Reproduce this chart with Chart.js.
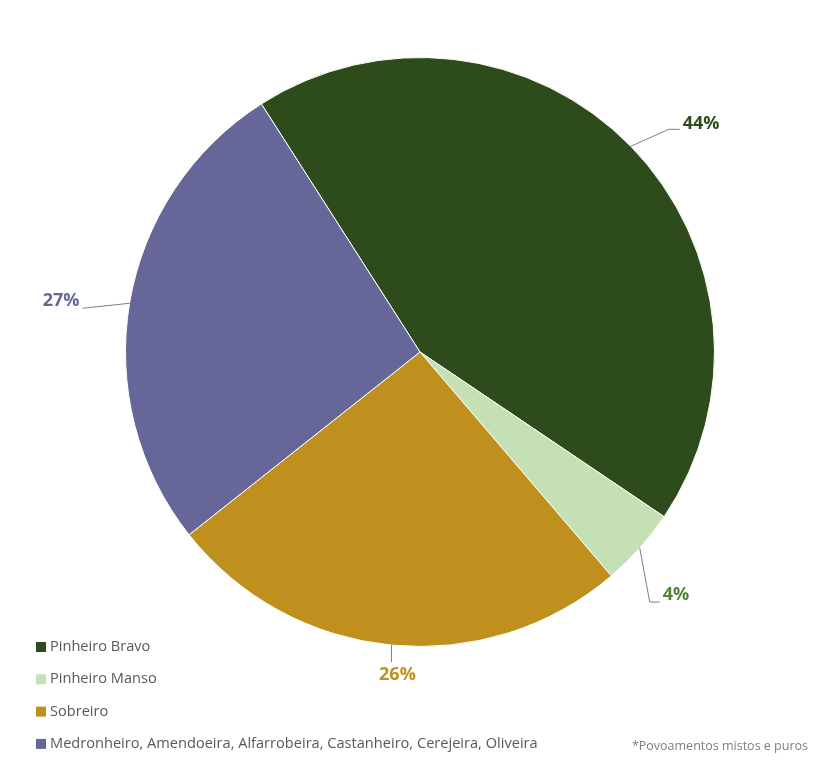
<!DOCTYPE html>
<html>
<head>
<meta charset="utf-8">
<script src="https://cdn.jsdelivr.net/npm/chart.js@4"></script>
<style>
  body { margin: 0; background: #fff; }
</style>
</head>
<body>
<canvas id="pie" width="830" height="768"></canvas>
<script>
const labels = [
  'Pinheiro Bravo',
  'Pinheiro Manso',
  'Sobreiro',
  'Medronheiro, Amendoeira, Alfarrobeira, Castanheiro, Cerejeira, Oliveira'
];
const values = [43.5, 4.3, 25.6, 26.6];
const pctLabels = ['44%', '4%', '26%', '27%'];
const footnote = '*Povoamentos mistos e puros';

const colors = ['#2e4b1c', '#c5e0b4', '#bf901e', '#666699'];
const labelColors = ['#2e4b1c', '#548235', '#bf901e', '#666699'];
// leader line: elbow offset from arc edge, then tail, then text anchor
const leaders = [
  { elbow: [38, -17], tail: [11, 0], text: [3, -5], align: 'left' },
  { elbow: [10, 54], tail: [10, 0], text: [3, -7], align: 'left' },
  { elbow: [0, 17], tail: [0, 0], text: [6, 13], align: 'center' },
  { elbow: [-47, 5], tail: [0, 0], text: [-3, -7], align: 'right' }
];

const extras = {
  id: 'extras',
  afterDraw(chart) {
    const ctx = chart.ctx;
    const meta = chart.getDatasetMeta(0);
    ctx.save();
    meta.data.forEach((arc, i) => {
      const p = arc.getProps(['x', 'y', 'startAngle', 'endAngle', 'outerRadius'], true);
      const mid = (p.startAngle + p.endAngle) / 2;
      const sx = p.x + Math.cos(mid) * p.outerRadius;
      const sy = p.y + Math.sin(mid) * p.outerRadius;
      const L = leaders[i];
      const ex = sx + L.elbow[0], ey = sy + L.elbow[1];
      const tx = ex + L.tail[0], ty = ey + L.tail[1];
      ctx.strokeStyle = '#7f7f7f';
      ctx.lineWidth = 1;
      ctx.beginPath();
      ctx.moveTo(sx, sy);
      ctx.lineTo(ex, ey);
      ctx.lineTo(tx, ty);
      ctx.stroke();
      ctx.fillStyle = labelColors[i];
      ctx.font = 'bold 18px "Open Sans"';
      ctx.textAlign = L.align;
      ctx.textBaseline = 'middle';
      ctx.fillText(pctLabels[i], tx + L.text[0], ty + L.text[1]);
    });

    // legend
    ctx.font = '14.6px "Open Sans"';
    ctx.textAlign = 'left';
    ctx.textBaseline = 'middle';
    labels.forEach((lab, i) => {
      const y = 647 + i * 32.3;
      ctx.fillStyle = colors[i];
      ctx.fillRect(36, y - 5, 10, 10);
      ctx.fillStyle = '#595959';
      ctx.fillText(lab, 50, y);
    });

    ctx.font = '12.5px "Open Sans"';
    ctx.fillStyle = '#7f7f7f';
    ctx.textAlign = 'right';
    ctx.fillText(footnote, 808, 746);
    ctx.restore();
  }
};

new Chart(document.getElementById('pie'), {
  type: 'pie',
  data: {
    labels: labels,
    datasets: [{
      data: values,
      backgroundColor: colors,
      borderColor: '#ffffff',
      borderWidth: 1
    }]
  },
  options: {
    responsive: false,
    animation: false,
    rotation: -32.6,
    layout: { padding: { left: 125, right: 115, top: 57, bottom: 121 } },
    plugins: {
      legend: { display: false },
      tooltip: { enabled: false }
    }
  },
  plugins: [extras]
});
</script>
</body>
</html>
